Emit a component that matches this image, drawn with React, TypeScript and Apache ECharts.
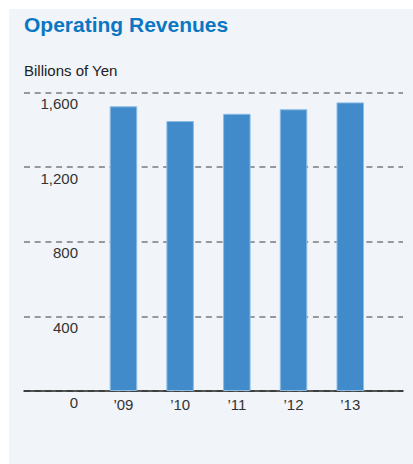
import React, { useEffect, useRef } from "react";
import * as echarts from "echarts";

const categories = ["\u201909", "\u201910", "\u201911", "\u201912", "\u201913"];
const revenues = [1526, 1447, 1486, 1510, 1547];
const yMin = 0;
const yMax = 1600;
const yInterval = 400;

const FONT = "'Liberation Sans', Arial, sans-serif";

export default function App() {
  const ref = useRef<HTMLDivElement>(null);
  useEffect(() => {
    if (!ref.current) return;
    const chart = echarts.init(ref.current, null, { renderer: "svg" });
    chart.setOption({
      animation: false,
      backgroundColor: "#f1f4f9",
      title: [
        {
          text: "Operating Revenues",
          left: 15,
          top: 5,
          padding: 0,
          textStyle: { fontFamily: FONT, fontSize: 21, fontWeight: "bold", color: "#0b77c3" },
        },
        {
          text: "Billions of Yen",
          left: 15,
          top: 54,
          padding: 0,
          textStyle: { fontFamily: FONT, fontSize: 15, fontWeight: "normal", color: "#222" },
        },
      ],
      grid: [
        { left: 15, right: 10, top: 83.5, bottom: 73 },
        { left: 86.1, right: 34.4, top: 83.5, bottom: 73 },
      ],
      xAxis: [
        {
          type: "value",
          gridIndex: 0,
          min: 0,
          max: 1,
          axisLine: { show: true, onZero: false, lineStyle: { color: "#222", width: 1.5 } },
          axisTick: { show: false },
          axisLabel: { show: false },
          splitLine: { show: false },
        },
        {
          type: "category",
          gridIndex: 1,
          data: categories,
          axisLine: { show: false },
          axisTick: { show: false },
          axisLabel: { fontFamily: FONT, fontSize: 15, color: "#333", margin: 6 },
          splitLine: { show: false },
        },
      ],
      yAxis: [
        {
          type: "value",
          gridIndex: 0,
          min: yMin,
          max: yMax,
          interval: yInterval,
          axisLine: { show: false },
          axisTick: { show: false },
          axisLabel: {
            fontFamily: FONT,
            fontSize: 15,
            color: "#333",
            align: "right",
            margin: -54,
            verticalAlign: "top",
            lineHeight: 22,
            formatter: (v: number) => v.toLocaleString("en-US"),
          },
          splitLine: {
            show: true,
            lineStyle: { color: "#7a7a7a", width: 1.5, type: [6, 4.7] },
          },
        },
        {
          type: "value",
          gridIndex: 1,
          min: yMin,
          max: yMax,
          interval: yInterval,
          show: false,
          splitLine: { show: false },
        },
      ],
      series: [
        {
          type: "bar",
          xAxisIndex: 1,
          yAxisIndex: 1,
          data: revenues,
          barWidth: 27.5,
          itemStyle: { color: "#418bca", borderColor: "#8dbce4", borderWidth: 1 },
          z: 5,
        },
      ],
    });
    return () => chart.dispose();
  }, []);
  return (
    <div
      ref={ref}
      style={{ position: "fixed", left: 9, top: 9, width: 404, height: 455 }}
    />
  );
}
